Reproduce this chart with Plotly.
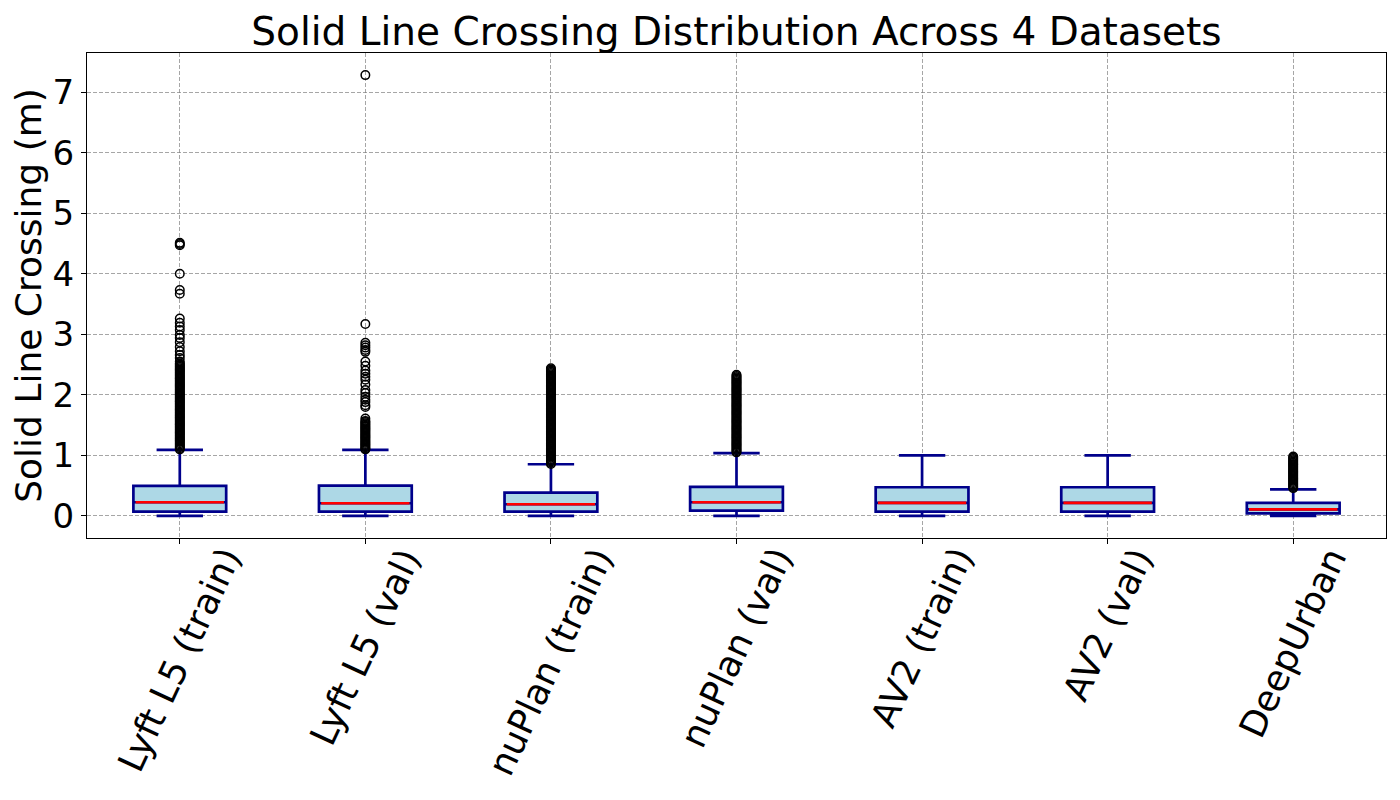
import plotly.graph_objects as go

# ---------------- data ----------------
categories = ["Lyft L5 (train)", "Lyft L5 (val)", "nuPlan (train)", "nuPlan (val)",
              "AV2 (train)", "AV2 (val)", "DeepUrban"]
positions = [1, 2, 3, 4, 5, 6, 7]

q1_vals = [0.071, 0.071, 0.071, 0.088, 0.071, 0.071, 0.044]
median_vals = [0.226, 0.210, 0.193, 0.226, 0.215, 0.215, 0.110]
q3_vals = [0.496, 0.500, 0.385, 0.479, 0.474, 0.474, 0.215]
lower_whisker = [0.0, 0.0, 0.0, 0.0, 0.0, 0.0, 0.0]
upper_whisker = [1.09, 1.09, 0.854, 1.036, 1.0, 1.0, 0.44]

lyft_train_out = [4.51, 4.49, 4.47, 4.00, 3.73, 3.67, 3.26, 3.19, 3.13, 3.07, 2.99, 2.94,
                  2.87, 2.79, 2.72, 2.66, 2.61, 2.55,
                  2.52, 2.50, 2.48, 2.46, 2.44, 2.42, 2.40, 2.38, 2.36, 2.34, 2.32, 2.30,
                  2.28, 2.26, 2.24, 2.22, 2.20, 2.18, 2.16, 2.14, 2.12, 2.10, 2.08, 2.06,
                  2.04, 2.02, 2.00, 1.98, 1.96, 1.94, 1.92, 1.90, 1.88, 1.86, 1.84, 1.82,
                  1.80, 1.78, 1.76, 1.74, 1.72, 1.70, 1.68, 1.66, 1.64, 1.62, 1.60, 1.58,
                  1.56, 1.54, 1.52, 1.50, 1.48, 1.46, 1.44, 1.42, 1.40, 1.38, 1.36, 1.34,
                  1.32, 1.30, 1.28, 1.26, 1.24, 1.22, 1.20, 1.18, 1.16, 1.14, 1.12, 1.10]
lyft_val_out = [7.28, 3.17, 2.86, 2.82, 2.78, 2.74, 2.71, 2.55, 2.48, 2.40, 2.35, 2.30,
                2.25, 2.17, 2.08, 2.03, 1.97, 1.92, 1.88, 1.83, 1.80, 1.61, 1.57, 1.55,
                1.53, 1.51, 1.49, 1.47, 1.45, 1.43, 1.41, 1.39, 1.37, 1.35, 1.33, 1.31,
                1.29, 1.27, 1.25, 1.23, 1.21, 1.19, 1.17, 1.15, 1.13, 1.11, 1.10]
nuplan_train_out = [2.44, 2.42, 2.40, 2.38, 2.36, 2.34, 2.32, 2.30, 2.28, 2.26, 2.24, 2.22,
                    2.20, 2.18, 2.16, 2.14, 2.12, 2.10, 2.08, 2.06, 2.04, 2.02, 2.00, 1.98,
                    1.96, 1.94, 1.92, 1.90, 1.88, 1.86, 1.84, 1.82, 1.80, 1.78, 1.76, 1.74,
                    1.72, 1.70, 1.68, 1.66, 1.64, 1.62, 1.60, 1.58, 1.56, 1.54, 1.52, 1.50,
                    1.48, 1.46, 1.44, 1.42, 1.40, 1.38, 1.36, 1.34, 1.32, 1.30, 1.28, 1.26,
                    1.24, 1.22, 1.20, 1.18, 1.16, 1.14, 1.12, 1.10, 1.08, 1.06, 1.04, 1.02,
                    1.00, 0.98, 0.96, 0.94, 0.92, 0.90, 0.88, 0.86]
nuplan_val_out = [2.33, 2.31, 2.29, 2.27, 2.25, 2.23, 2.21, 2.19, 2.17, 2.15, 2.13, 2.11,
                  2.09, 2.07, 2.05, 2.03, 2.01, 1.99, 1.97, 1.95, 1.93, 1.91, 1.89, 1.87,
                  1.85, 1.83, 1.81, 1.79, 1.77, 1.75, 1.73, 1.71, 1.69, 1.67, 1.65, 1.63,
                  1.61, 1.59, 1.57, 1.55, 1.53, 1.51, 1.49, 1.47, 1.45, 1.43, 1.41, 1.39,
                  1.37, 1.35, 1.33, 1.31, 1.29, 1.27, 1.25, 1.23, 1.21, 1.19, 1.17, 1.15,
                  1.13, 1.11, 1.09, 1.07, 1.05]
av2_train_out = []
av2_val_out = []
deepurban_out = [0.98, 0.96, 0.94, 0.92, 0.90, 0.88, 0.86, 0.84, 0.82, 0.80, 0.78, 0.76,
                 0.74, 0.72, 0.70, 0.68, 0.66, 0.64, 0.62, 0.60, 0.58, 0.56, 0.54, 0.52,
                 0.50, 0.48, 0.46]

outliers = [lyft_train_out, lyft_val_out, nuplan_train_out, nuplan_val_out,
            av2_train_out, av2_val_out, deepurban_out]

y_ticks = [0, 1, 2, 3, 4, 5, 6, 7]

# ---------------- style ----------------
BOX_W = 0.5
FONT = "DejaVu Sans"
DARKBLUE = "#00008B"
LIGHTBLUE = "#ADD8E6"
GRID = "rgba(128,128,128,0.7)"
PAGE_OFF = 8  # browser body margin

fig = go.Figure()

fig.add_trace(go.Box(
    x=positions, q1=q1_vals, median=median_vals, q3=q3_vals,
    lowerfence=lower_whisker, upperfence=upper_whisker,
    boxpoints=False, width=BOX_W, whiskerwidth=0.5,
    fillcolor=LIGHTBLUE, line=dict(color=DARKBLUE, width=2.7),
    hoverinfo="skip", showlegend=False,
))

# red median lines
mx, my = [], []
for p, m in zip(positions, median_vals):
    mx += [p - BOX_W / 2 + 0.012, p + BOX_W / 2 - 0.012, None]
    my += [m, m, None]
fig.add_trace(go.Scatter(x=mx, y=my, mode="lines",
                         line=dict(color="red", width=2.7),
                         hoverinfo="skip", showlegend=False))

# fliers
ox, oy = [], []
for p, vals in zip(positions, outliers):
    ox += [p] * len(vals)
    oy += vals
fig.add_trace(go.Scatter(x=ox, y=oy, mode="markers",
                         marker=dict(symbol="circle-open", size=8.5, color="black",
                                     line=dict(width=1.5, color="black")),
                         hoverinfo="skip", showlegend=False))

# category labels, rotated, centered under ticks
for p, c in zip(positions, categories):
    fig.add_annotation(x=p, xref="x", y=0, yref="paper", yshift=-1,
                       text=c, textangle=-65, showarrow=False,
                       xanchor="center", yanchor="top",
                       font=dict(family=FONT, size=36, color="black"))

fig.update_layout(
    width=1400, height=800,
    margin=dict(l=87 - PAGE_OFF, r=14 + PAGE_OFF, t=53 - PAGE_OFF, b=262 + PAGE_OFF),
    paper_bgcolor="white", plot_bgcolor="white",
    font=dict(family=FONT, color="black"),
    title=dict(text="Solid Line Crossing Distribution Across 4 Datasets",
               x=0.5, xref="paper", xanchor="center",
               y=1 - (31 - PAGE_OFF) / 800, yref="container", yanchor="middle",
               font=dict(family=FONT, size=39, color="black")),
)

fig.update_xaxes(
    range=[0.5, 7.5], tickvals=positions, ticktext=[""] * len(positions),
    showgrid=True, gridcolor=GRID, griddash="4px,2px", gridwidth=1,
    ticks="outside", ticklen=5, tickcolor="black", tickwidth=1,
    showline=True, linecolor="black", linewidth=1.1, mirror=True,
    zeroline=False, automargin=False,
)
fig.update_yaxes(
    range=[-0.364, 7.645], tickvals=y_ticks,
    tickfont=dict(family=FONT, size=34, color="black"),
    title=dict(text="Solid Line Crossing (m)", standoff=4,
               font=dict(family=FONT, size=36, color="black")),
    showgrid=True, gridcolor=GRID, griddash="4px,2px", gridwidth=1,
    ticks="outside", ticklen=5, tickcolor="black", tickwidth=1,
    showline=True, linecolor="black", linewidth=1.1, mirror=True,
    zeroline=False, automargin=False,
)

fig.write_html("out.html")
